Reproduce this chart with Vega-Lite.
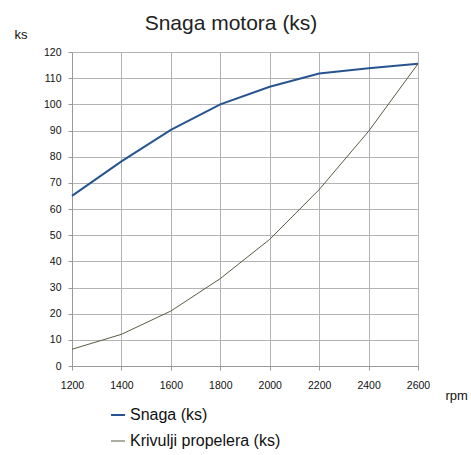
{
  "$schema": "https://vega.github.io/schema/vega-lite/v6.json",
  "autosize": {"type": "none"},
  "width": 346,
  "height": 314,
  "padding": {"left": 72, "top": 52, "right": 53, "bottom": 89},
  "background": "white",
  "config": {
    "font": "Liberation Sans",
    "view": {"stroke": "#b3b3b3"}
  },
  "title": {
    "text": "Snaga motora (ks)",
    "fontSize": 21,
    "fontWeight": "normal",
    "color": "#222222",
    "anchor": "middle",
    "dx": -14,
    "offset": -6
  },
  "data": {
    "values": [
      {"rpm": 1200, "ks": 65, "serija": "Snaga (ks)"},
      {"rpm": 1400, "ks": 78.2, "serija": "Snaga (ks)"},
      {"rpm": 1600, "ks": 90.2, "serija": "Snaga (ks)"},
      {"rpm": 1800, "ks": 100, "serija": "Snaga (ks)"},
      {"rpm": 2000, "ks": 106.7, "serija": "Snaga (ks)"},
      {"rpm": 2200, "ks": 111.8, "serija": "Snaga (ks)"},
      {"rpm": 2400, "ks": 113.8, "serija": "Snaga (ks)"},
      {"rpm": 2600, "ks": 115.5, "serija": "Snaga (ks)"},
      {"rpm": 1200, "ks": 6.4, "serija": "Krivulji propelera (ks)"},
      {"rpm": 1400, "ks": 12.1, "serija": "Krivulji propelera (ks)"},
      {"rpm": 1600, "ks": 21, "serija": "Krivulji propelera (ks)"},
      {"rpm": 1800, "ks": 33.4, "serija": "Krivulji propelera (ks)"},
      {"rpm": 2000, "ks": 48.4, "serija": "Krivulji propelera (ks)"},
      {"rpm": 2200, "ks": 67.4, "serija": "Krivulji propelera (ks)"},
      {"rpm": 2400, "ks": 89.7, "serija": "Krivulji propelera (ks)"},
      {"rpm": 2600, "ks": 115.5, "serija": "Krivulji propelera (ks)"}
    ]
  },
  "mark": {"type": "line", "interpolate": "linear"},
  "encoding": {
    "x": {
      "field": "rpm",
      "type": "quantitative",
      "scale": {"domain": [1200, 2600], "nice": false, "zero": false},
      "axis": {
        "values": [1200, 1400, 1600, 1800, 2000, 2200, 2400, 2600],
        "format": "d",
        "labelFlush": false,
        "labelOverlap": false,
        "labelFontSize": 10.5,
        "labelColor": "#111111",
        "labelPadding": 10,
        "tickSize": 4,
        "tickColor": "#999999",
        "domainColor": "#999999",
        "gridColor": "#b3b3b3",
        "title": "rpm",
        "titleFontSize": 13,
        "titleFontWeight": "normal",
        "titleColor": "#111111",
        "titleAnchor": "start",
        "titleAlign": "left",
        "titleBaseline": "alphabetic",
        "titleX": 373,
        "titleY": 33
      }
    },
    "y": {
      "field": "ks",
      "type": "quantitative",
      "scale": {"domain": [0, 120], "nice": false},
      "axis": {
        "values": [0, 10, 20, 30, 40, 50, 60, 70, 80, 90, 100, 110, 120],
        "labelFontSize": 10.5,
        "labelColor": "#111111",
        "labelPadding": 7,
        "labelFlush": false,
        "tickSize": 4,
        "tickColor": "#999999",
        "domainColor": "#999999",
        "gridColor": "#b3b3b3",
        "title": "ks",
        "titleFontSize": 13,
        "titleFontWeight": "normal",
        "titleColor": "#111111",
        "titleAngle": 0,
        "titleAlign": "left",
        "titleBaseline": "alphabetic",
        "titleX": -58,
        "titleY": -14
      }
    },
    "color": {
      "field": "serija",
      "type": "nominal",
      "scale": {
        "domain": ["Snaga (ks)", "Krivulji propelera (ks)"],
        "range": ["#27548f", "#5c5a44"]
      },
      "legend": {
        "title": null,
        "orient": "none",
        "legendX": 38,
        "legendY": 355,
        "symbolType": "stroke",
        "symbolSize": 196,
        "symbolStrokeWidth": 2,
        "labelFontSize": 16,
        "labelColor": "#111111",
        "labelOffset": 4,
        "rowPadding": 10
      }
    },
    "strokeWidth": {
      "field": "serija",
      "type": "nominal",
      "scale": {
        "domain": ["Snaga (ks)", "Krivulji propelera (ks)"],
        "range": [2, 1]
      },
      "legend": null
    }
  }
}
